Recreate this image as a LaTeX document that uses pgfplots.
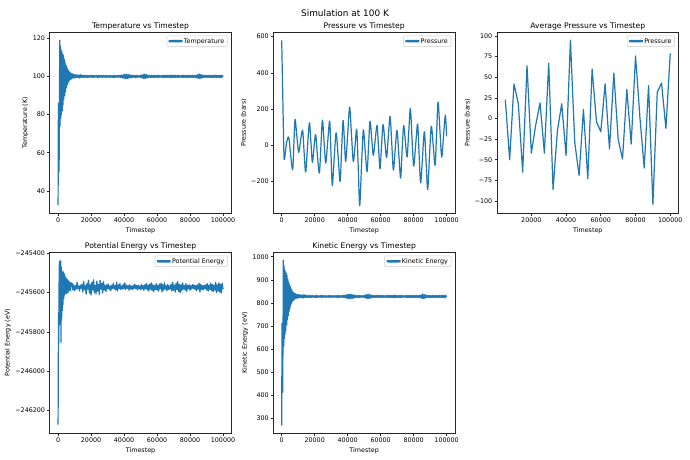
\documentclass[border=0pt]{standalone}
\usepackage{fontspec}
\setmainfont{DejaVu Sans}
\usepackage{pgfplots}
\pgfplotsset{compat=1.18}
\definecolor{mplblue}{HTML}{1F77B4}
\definecolor{legedge}{HTML}{CCCCCC}
\tikzset{mplline/.style={draw=mplblue, line width=1.9pt, line join=round, mark=none}}
\pgfplotsset{
  mpl/.style={
    width=284bp, height=284bp, scale only axis,
    axis line style={black!85, line width=1.1pt},
    tick align=outside, tick pos=left,
    major tick length=4pt,
    every tick/.style={black!85, line width=1.1pt},
    tick label style={font=\fontsize{10}{12}\selectfont},
    label style={font=\fontsize{10}{12}\selectfont},
    title style={font=\fontsize{12}{14}\selectfont, yshift=-7bp},
    legend style={font=\fontsize{10}{12}\selectfont, at={(0.98,0.98)}, anchor=north east,
      draw=legedge, line width=0.8pt, rounded corners=2pt, inner xsep=3pt, inner ysep=2pt},
    legend cell align=left,
    legend image code/.code={\fill[mplblue] (0pt,-0.95pt) rectangle (20pt,0.95pt);},
    /pgf/number format/assume math mode=true,
    scaled ticks=false,
    xlabel={Timestep},
  },
  fullx/.style={xmin=-5000, xmax=105000,
    xtick={0,20000,40000,60000,80000,100000},
    xticklabels={0,20000,40000,60000,80000,100000}},
}
\begin{document}
\begin{tikzpicture}
\useasboundingbox (0,0) rectangle (1080bp,720bp);
\node[font=\fontsize{14}{16}\selectfont] at (540bp,699bp) {Simulation at 100 K};

% ---------------- Temperature
\begin{axis}[mpl, fullx, at={(78bp,670bp)}, anchor=north west,
  title={Temperature vs Timestep}, ylabel={Temperature (K)},
  ymin=28.2, ymax=123.3, ytick={40,60,80,100,120}, yticklabels={40,60,80,100,120}]
\addplot[mplline] coordinates {
(0,32.5)(200,86)(400,80)(600,50)(800,79)(1000,119)(1200,74)(1400,116)(1600,78)(1800,114)(2000,80)(2250,113)(2500,82)(2750,112)(3000,85)(3250,111)(3500,88)(3750,109)(4000,90)(4250,107.5)(4500,92)(4750,106)(5000,94)(5250,105)(5500,95.5)(5750,104)(6000,96.5)(6250,103)(6500,97.5)(6750,102.4)(7000,98)(7250,102)(7500,98.4)(7750,101.6)(8000,98.7)(8500,101.4)(9000,99)(9500,101.1)(10000,99.2)
(10500,100.9)(11000,99.3)(11500,100.8)(12000,99.4)(12500,100.7)(13000,99.2)(13500,100.9)(14000,99.4)(14500,100.6)(15000,99.5)(15500,100.6)(16000,99.4)(16500,100.5)(17000,99.5)(17500,100.6)(18000,99.4)(18500,100.5)(19000,99.6)(19500,100.4)(20000,99.5)
(20500,100.6)(21000,99.4)(21500,100.5)(22000,99.5)(22500,100.4)(23000,99.6)(23500,100.5)(24000,99.4)(24500,100.6)(25000,99.5)(25500,100.4)(26000,99.6)(26500,100.5)(27000,99.5)(27500,100.4)(28000,99.6)(28500,100.5)(29000,99.4)(29500,100.5)(30000,99.6)
(30500,100.4)(31000,99.5)(31500,100.5)(32000,99.6)(32500,100.4)(33000,99.5)(33500,100.5)(34000,99.4)(34500,100.6)(35000,99.5)(35500,100.4)(36000,99.6)(36500,100.5)(37000,99.5)(37500,100.6)(38000,99.4)(38500,100.7)(39000,99.2)(39500,100.9)(40000,99.0)
(40500,101.1)(41000,98.8)(41500,101.2)(42000,98.9)(42500,101.0)(43000,99.1)(43500,100.8)(44000,99.3)(44500,100.6)(45000,99.4)(45500,100.5)(46000,99.5)(46500,100.6)(47000,99.4)(47500,100.5)(48000,99.5)(48500,100.4)(49000,99.6)(49500,100.5)(50000,99.4)
(50500,100.7)(51000,99.2)(51500,101.0)(52000,98.9)(52500,101.2)(53000,98.9)(53500,100.9)(54000,99.2)(54500,100.7)(55000,99.4)(55500,100.5)(56000,99.5)(56500,100.6)(57000,99.4)(57500,100.5)(58000,99.5)(58500,100.6)(59000,99.4)(59500,100.5)(60000,99.5)
(60500,100.6)(61000,99.4)(61500,100.5)(62000,99.6)(62500,100.4)(63000,99.5)(63500,100.6)(64000,99.4)(64500,100.5)(65000,99.5)(65500,100.6)(66000,99.4)(66500,100.5)(67000,99.5)(67500,100.6)(68000,99.3)(68500,100.7)(69000,99.4)(69500,100.5)(70000,99.5)
(70500,100.6)(71000,99.4)(71500,100.5)(72000,99.5)(72500,100.6)(73000,99.4)(73500,100.5)(74000,99.6)(74500,100.4)(75000,99.5)(75500,100.6)(76000,99.4)(76500,100.5)(77000,99.5)(77500,100.6)(78000,99.4)(78500,100.5)(79000,99.5)(79500,100.6)(80000,99.4)
(80500,100.5)(81000,99.5)(81500,100.6)(82000,99.4)(82500,100.5)(83000,99.5)(83500,100.6)(84000,99.3)(84500,100.8)(85000,99.0)(85500,101.3)(86000,98.8)(86500,101.0)(87000,99.2)(87500,100.7)(88000,99.4)(88500,100.5)(89000,99.5)(89500,100.6)(90000,99.4)
(90500,100.5)(91000,99.5)(91500,100.6)(92000,99.4)(92500,100.5)(93000,99.5)(93500,100.6)(94000,99.4)(94500,100.5)(95000,99.5)(95500,100.6)(96000,99.4)(96500,100.5)(97000,99.5)(97500,100.6)(98000,99.4)(98500,100.5)(99000,99.3)(99500,100.6)(100000,99.8)
};
\addlegendentry{Temperature}
\end{axis}

% ---------------- Pressure
\begin{axis}[mpl, fullx, at={(428bp,670bp)}, anchor=north west,
  title={Pressure vs Timestep}, ylabel={Pressure (bars)},
  ymin=-376, ymax=626, ytick={-200,0,200,400,600}, yticklabels={−200,0,200,400,600}]
\addplot[mplline, smooth, tension=0.5] coordinates {
(0,580)(700,250)(1300,-30)(1640,-79)(2900,10)(4240,45)(5500,-60)(6670,-135)(7400,10)(8100,143)(9200,50)(10300,-39)(11500,30)(12700,82)(13600,-40)(14540,-148)(15700,0)(16800,124)(17700,20)(18600,-94)(19600,-10)(20600,59)(21700,-60)(22850,-153)(23800,0)(24700,139)(25700,20)(26700,-98)(27900,20)(29100,133)(29900,-50)(30700,-222)(31900,-60)(33000,69)(34200,-60)(35400,-200)(36300,-30)(37200,137)(38000,30)(38800,-89)(40000,60)(41200,211)(42300,60)(43400,-89)(44500,0)(45500,87)(46400,-120)(47300,-333)(48400,-110)(49500,85)(50600,-30)(51750,-146)(52650,-5)(53550,133)(54550,40)(55550,-55)(56700,30)(57800,110)(58700,-10)(59600,-130)(60500,-5)(61450,115)(62500,25)(63600,-67)(64650,50)(65700,160)(66700,15)(67700,-137)(68800,-25)(69900,82)(71000,-50)(72100,-181)(73000,-30)(73950,109)(75000,20)(76000,-65)(77000,70)(78000,203)(79000,40)(80000,-115)(81200,0)(82400,118)(83300,-50)(84250,-207)(85400,-60)(86500,75)(87500,-85)(88500,-244)(89600,-60)(90700,105)(91900,-5)(93000,-110)(93900,65)(94800,239)(95900,85)(97000,-65)(98100,50)(99200,167)(100000,50)
};
\addlegendentry{Pressure}
\end{axis}

% ---------------- Average pressure
\begin{axis}[mpl, at={(778bp,670bp)}, anchor=north west,
  title={Average Pressure vs Timestep}, ylabel={Pressure (bars)},
  xmin=250, xmax=104750, xtick={20000,40000,60000,80000,100000},
  xticklabels={20000,40000,60000,80000,100000},
  ymin=-115, ymax=105, ytick={-100,-75,-50,-25,0,25,50,75,100},
  yticklabels={−100,−75,−50,−25,0,25,50,75,100}]
\addplot[mplline] coordinates {
(5000,23)(7500,-50)(10000,42)(12500,18)(15000,-65)(17500,64)(20000,-42)(22500,-8)(25000,19)(27500,-42)(30000,67)(32500,-86)(35000,-15)(37500,18)(40000,-45)(42500,95)(45000,-29)(47500,-69)(50000,11)(52500,-73)(55000,60)(57500,-4)(60000,-16)(62500,42)(65000,-37)(67500,55)(70000,-25)(72500,-49)(75000,35)(77500,-31)(80000,76)(82500,2)(85000,-60)(87500,40)(90000,-104)(92500,32)(95000,43)(97500,-12)(100000,79)
};
\addlegendentry{Pressure}
\end{axis}

% ---------------- Potential energy
\begin{axis}[mpl, fullx, at={(78bp,325.6bp)}, anchor=north west,
  title={Potential Energy vs Timestep}, ylabel={Potential Energy (eV)},
  ymin=-246316, ymax=-245393,
  ytick={-246200,-246000,-245800,-245600,-245400},
  yticklabels={−246200,−246000,−245800,−245600,−245400}]
\addplot[mplline] coordinates {
(0,-246271)(150,-245930)(300,-245700)(450,-245860)(600,-245560)(800,-245440)(1000,-245700)(1200,-245455)(1400,-245760)(1600,-245438)(1800,-245852)(2000,-245470)(2200,-245726)(2400,-245490)(2600,-245690)(2800,-245500)(3000,-245660)(3250,-245495)(3500,-245630)(3750,-245505)(4000,-245610)(4250,-245515)(4500,-245600)(4750,-245525)(5000,-245605)(5250,-245530)(5500,-245598)(5750,-245535)(6000,-245600)(6250,-245540)(6500,-245592)(7000,-245545)(7500,-245590)(8000,-245550)
(8500,-245552)(9000,-245587)(9500,-245560)(10000,-245590)(10500,-245564)(11000,-245582)(11500,-245547)(12000,-245580)(12500,-245566)(13000,-245592)(13500,-245562)(14000,-245578)(14500,-245557)(15000,-245597)(15500,-245542)(16000,-245584)(16500,-245564)(17000,-245607)(17500,-245552)(18000,-245582)
(18500,-245537)(19000,-245602)(19500,-245560)(20000,-245612)(20500,-245547)(21000,-245587)(21500,-245534)(22000,-245600)(22500,-245562)(23000,-245607)(23500,-245542)(24000,-245592)(24500,-245557)(25000,-245610)(25500,-245537)(26000,-245582)(26500,-245552)(27000,-245602)(27500,-245544)(28000,-245587)
(28500,-245562)(29000,-245594)(29500,-245560)(30000,-245580)(30500,-245557)(31000,-245584)(31500,-245566)(32000,-245590)(32500,-245562)(33000,-245578)(33500,-245552)(34000,-245582)(34500,-245564)(35000,-245587)(35500,-245547)(36000,-245592)(36500,-245560)(37000,-245580)(37500,-245554)(38000,-245584)
(38500,-245566)(39000,-245582)(39500,-245557)(40000,-245580)(40500,-245550)(41000,-245584)(41500,-245562)(42000,-245578)(42500,-245564)(43000,-245587)(43500,-245560)(44000,-245582)(44500,-245566)(45000,-245584)(45500,-245562)(46000,-245580)(46500,-245557)(47000,-245578)(47500,-245564)(48000,-245586)
(48500,-245562)(49000,-245580)(49500,-245566)(50000,-245584)(50500,-245558)(51000,-245582)(51500,-245564)(52000,-245588)(52500,-245560)(53000,-245580)(53500,-245554)(54000,-245586)(54500,-245562)(55000,-245592)(55500,-245557)(56000,-245582)(56500,-245550)(57000,-245590)(57500,-245560)(58000,-245594)
(58500,-245564)(59000,-245584)(59500,-245554)(60000,-245587)(60500,-245562)(61000,-245592)(61500,-245556)(62000,-245580)(62500,-245552)(63000,-245597)(63500,-245560)(64000,-245587)(64500,-245550)(65000,-245582)(65500,-245564)(66000,-245590)(66500,-245558)(67000,-245584)(67500,-245566)(68000,-245582)
(68500,-245557)(69000,-245592)(69500,-245547)(70000,-245587)(70500,-245562)(71000,-245597)(71500,-245552)(72000,-245584)(72500,-245544)(73000,-245594)(73500,-245557)(74000,-245600)(74500,-245560)(75000,-245590)(75500,-245550)(76000,-245582)(76500,-245564)(77000,-245587)(77500,-245554)(78000,-245594)
(78500,-245562)(79000,-245580)(79500,-245560)(80000,-245588)(80500,-245564)(81000,-245582)(81500,-245558)(82000,-245578)(82500,-245562)(83000,-245584)(83500,-245564)(84000,-245590)(84500,-245560)(85000,-245582)(85500,-245552)(86000,-245597)(86500,-245557)(87000,-245584)(87500,-245564)(88000,-245586)
(88500,-245562)(89000,-245580)(89500,-245560)(90000,-245587)(90500,-245554)(91000,-245592)(91500,-245562)(92000,-245584)(92500,-245552)(93000,-245590)(93500,-245558)(94000,-245594)(94500,-245562)(95000,-245587)(95500,-245547)(96000,-245600)(96500,-245560)(97000,-245592)(97500,-245550)(98000,-245597)
(98500,-245557)(99000,-245602)(99500,-245552)(100000,-245582)
};
\addlegendentry{Potential Energy}
\end{axis}

% ---------------- Kinetic energy
\begin{axis}[mpl, fullx, at={(428bp,325.6bp)}, anchor=north west,
  title={Kinetic Energy vs Timestep}, ylabel={Kinetic Energy (eV)},
  ymin=234, ymax=1021, ytick={300,400,500,600,700,800,900,1000},
  yticklabels={300,400,500,600,700,800,900,1000}]
\addplot[mplline] coordinates {
(0,268)(200,712)(400,662)(600,413)(800,654)(1000,986)(1200,612)(1400,961)(1600,645)(1800,944)(2000,662)(2250,936)(2500,679)(2750,928)(3000,704)(3250,919)(3500,728)(3750,903)(4000,745)(4250,890)(4500,762)(4750,878)(5000,778)(5250,870)(5500,791)(5750,861)(6000,799)(6250,853)(6500,807)(6750,848)(7000,811)(7250,845)(7500,815)(7750,841)(8000,817)(8500,840)(9000,820)(9500,837)(10000,821)
(10500,836)(11000,822)(11500,835)(12000,823)(12500,834)(13000,821)(13500,836)(14000,823)(14500,833)(15000,824)(15500,833)(16000,823)(16500,832)(17000,824)(17500,833)(18000,823)(18500,832)(19000,825)(19500,831)(20000,824)
(20500,833)(21000,823)(21500,832)(22000,824)(22500,831)(23000,825)(23500,832)(24000,823)(24500,833)(25000,824)(25500,831)(26000,825)(26500,832)(27000,824)(27500,831)(28000,825)(28500,832)(29000,823)(29500,832)(30000,825)
(30500,831)(31000,824)(31500,832)(32000,825)(32500,831)(33000,824)(33500,832)(34000,823)(34500,833)(35000,824)(35500,831)(36000,825)(36500,832)(37000,824)(37500,833)(38000,823)(38500,834)(39000,821)(39500,836)(40000,820)
(40500,837)(41000,818)(41500,838)(42000,819)(42500,836)(43000,820)(43500,835)(44000,822)(44500,833)(45000,823)(45500,832)(46000,824)(46500,833)(47000,823)(47500,832)(48000,824)(48500,831)(49000,825)(49500,832)(50000,823)
(50500,834)(51000,821)(51500,836)(52000,819)(52500,838)(53000,819)(53500,835)(54000,821)(54500,834)(55000,823)(55500,832)(56000,824)(56500,833)(57000,823)(57500,832)(58000,824)(58500,833)(59000,823)(59500,832)(60000,824)
(60500,833)(61000,823)(61500,832)(62000,825)(62500,831)(63000,824)(63500,833)(64000,823)(64500,832)(65000,824)(65500,833)(66000,823)(66500,832)(67000,824)(67500,833)(68000,822)(68500,834)(69000,823)(69500,832)(70000,824)
(70500,833)(71000,823)(71500,832)(72000,824)(72500,833)(73000,823)(73500,832)(74000,825)(74500,831)(75000,824)(75500,833)(76000,823)(76500,832)(77000,824)(77500,833)(78000,823)(78500,832)(79000,824)(79500,833)(80000,823)
(80500,832)(81000,824)(81500,833)(82000,823)(82500,832)(83000,824)(83500,833)(84000,822)(84500,835)(85000,820)(85500,839)(86000,818)(86500,836)(87000,821)(87500,834)(88000,823)(88500,832)(89000,824)(89500,833)(90000,823)
(90500,832)(91000,824)(91500,833)(92000,823)(92500,832)(93000,824)(93500,833)(94000,823)(94500,832)(95000,824)(95500,833)(96000,823)(96500,832)(97000,824)(97500,833)(98000,823)(98500,832)(99000,822)(99500,833)(100000,826)
};
\addlegendentry{Kinetic Energy}
\end{axis}
\end{tikzpicture}
\end{document}
